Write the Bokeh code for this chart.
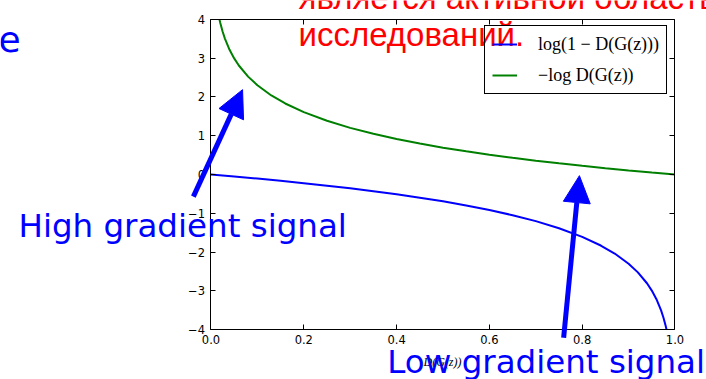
from bokeh.plotting import figure
from bokeh.models import (Label, Arrow, NormalHead, LinearAxis, FixedTicker,
                          Range1d)
from bokeh.embed import file_html
from bokeh.resources import INLINE

# ---- data ----
d_blue = [0.0, 0.05, 0.1, 0.15, 0.2, 0.25, 0.3, 0.35, 0.4, 0.45, 0.5, 0.55,
          0.6, 0.65, 0.7, 0.75, 0.8, 0.84, 0.87, 0.9, 0.92, 0.94, 0.95, 0.96,
          0.97, 0.975, 0.98, 0.9817]
log_one_minus_d = [0.0, -0.051, -0.105, -0.163, -0.223, -0.288, -0.357, -0.431,
                   -0.511, -0.598, -0.693, -0.799, -0.916, -1.050, -1.204,
                   -1.386, -1.609, -1.833, -2.040, -2.303, -2.526, -2.813,
                   -2.996, -3.219, -3.507, -3.689, -3.912, -4.0]

d_green = [0.0183, 0.02, 0.025, 0.03, 0.04, 0.05, 0.06, 0.08, 0.1, 0.13,
           0.16, 0.2, 0.25, 0.3, 0.35, 0.4, 0.45, 0.5, 0.55, 0.6, 0.65, 0.7,
           0.75, 0.8, 0.85, 0.9, 0.95, 1.0]
neg_log_d = [4.0, 3.912, 3.689, 3.507, 3.219, 2.996, 2.813, 2.526,
             2.303, 2.040, 1.833, 1.609, 1.386, 1.204, 1.050, 0.916, 0.799,
             0.693, 0.598, 0.511, 0.431, 0.357, 0.288, 0.223, 0.163, 0.105,
             0.051, 0.0]

x_ticks = [0.0, 0.2, 0.4, 0.6, 0.8, 1.0]
x_tick_labels = ["0.0", "0.2", "0.4", "0.6", "0.8", "1.0"]
y_ticks = [-4, -3, -2, -1, 0, 1, 2, 3, 4]
y_tick_labels = ["\u22124", "\u22123", "\u22122", "\u22121", "0", "1", "2", "3", "4"]

legend_labels = ["log(1 \u2212 D(G(z)))", "\u2212log D(G(z))"]
x_label = "D(G(z))"

W, H = 706, 379
# the axes box spans x 0..1 and y -4..4; the canvas extends beyond it
p = figure(width=W, height=H, output_backend="svg", toolbar_location=None,
           x_range=Range1d(-0.45366, 1.06789), y_range=Range1d(-5.29032, 4.49032),
           min_border=0, x_axis_location=None, y_axis_location=None)
p.background_fill_color = "white"
p.border_fill_color = "white"
p.outline_line_color = None
p.xgrid.visible = False
p.ygrid.visible = False

tick_font = "DejaVu Sans"

def make_axis(ticks, labels, show_labels, loc, bounds):
    ax = LinearAxis(ticker=FixedTicker(ticks=ticks), fixed_location=loc,
                    bounds=bounds)
    ax.major_label_overrides = {t: l for t, l in zip(ticks, labels)}
    ax.axis_line_color = "black"
    ax.axis_line_width = 1
    ax.major_tick_in = 5
    ax.major_tick_out = 0
    ax.major_tick_line_color = "black"
    ax.minor_tick_line_color = None
    ax.major_label_text_font = tick_font
    ax.major_label_text_font_size = "11.5px" if show_labels else "0px"
    ax.major_label_text_color = "black" if show_labels else None
    ax.major_label_standoff = 6 if show_labels else 0
    return ax

bottom = make_axis(x_ticks, x_tick_labels, True, -4, (0, 1))
bottom.major_label_standoff = 5
bottom.axis_label = x_label
bottom.axis_label_text_font = "Liberation Serif"
bottom.axis_label_text_font_style = "italic"
bottom.axis_label_text_font_size = "12px"
bottom.axis_label_text_color = "black"
bottom.axis_label_standoff = 8
p.add_layout(bottom, "below")
p.add_layout(make_axis(y_ticks, y_tick_labels, True, 0, (-4, 4)), "left")
p.add_layout(make_axis(x_ticks, x_tick_labels, False, 4, (0, 1)), "above")
p.add_layout(make_axis(y_ticks, y_tick_labels, False, 1, (-4, 4)), "right")

p.line(d_blue, log_one_minus_d, line_color="#0000ff", line_width=2,
       legend_label=legend_labels[0])
p.line(d_green, neg_log_d, line_color="#008000", line_width=2,
       legend_label=legend_labels[1])

lg = p.legend[0]
lg.level = "underlay"
lg.location = (484, 285)
lg.padding = 7
lg.spacing = 9
lg.glyph_width = 25
lg.glyph_height = 22
lg.label_height = 22
lg.label_standoff = 21
lg.label_text_font = "Liberation Serif"
lg.label_text_font_size = "18px"
lg.label_text_color = "black"
lg.border_line_color = "black"
lg.border_line_width = 1
lg.border_line_alpha = 1
lg.background_fill_color = "white"
lg.background_fill_alpha = 0
lg.border_radius = 0

# arrows
p.add_layout(Arrow(end=NormalHead(size=27, fill_color="#0000ff", line_color="#0000ff"),
                   x_start=-0.038, y_start=-0.57, x_end=0.068, y_end=2.19,
                   line_color="#0000ff", line_width=5, level="overlay"))
p.add_layout(Arrow(end=NormalHead(size=27, fill_color="#0000ff", line_color="#0000ff"),
                   x_start=0.760, y_start=-4.21, x_end=0.794, y_end=-0.03,
                   line_color="#0000ff", line_width=5, level="overlay"))

blue_font = "DejaVu Sans"
p.add_layout(Label(x=-0.415, y=-1.34, text="High gradient signal",
                   text_font=blue_font, text_font_size="32.5px",
                   text_color="#0000ff", text_baseline="alphabetic",
                   level="overlay"))
p.add_layout(Label(x=0.380, y=-4.85, text="Low gradient signal",
                   text_font=blue_font, text_font_size="32.5px",
                   text_color="#0000ff", text_baseline="alphabetic",
                   level="overlay"))
p.add_layout(Label(x=-0.458, y=3.49, text="e",
                   text_font=blue_font, text_font_size="36px",
                   text_color="#0000ff", text_baseline="alphabetic",
                   level="overlay"))
p.add_layout(Label(x=0.1886, y=4.56, text="является активной областью",
                   text_font="Liberation Sans", text_font_size="33px",
                   text_color="#ff0000", text_baseline="alphabetic",
                   level="overlay"))
p.add_layout(Label(x=0.1886, y=3.61, text="исследований.",
                   text_font="Liberation Sans", text_font_size="33px",
                   text_color="#ff0000", text_baseline="alphabetic",
                   level="overlay"))

open("out.html", "w").write(file_html(p, INLINE))
